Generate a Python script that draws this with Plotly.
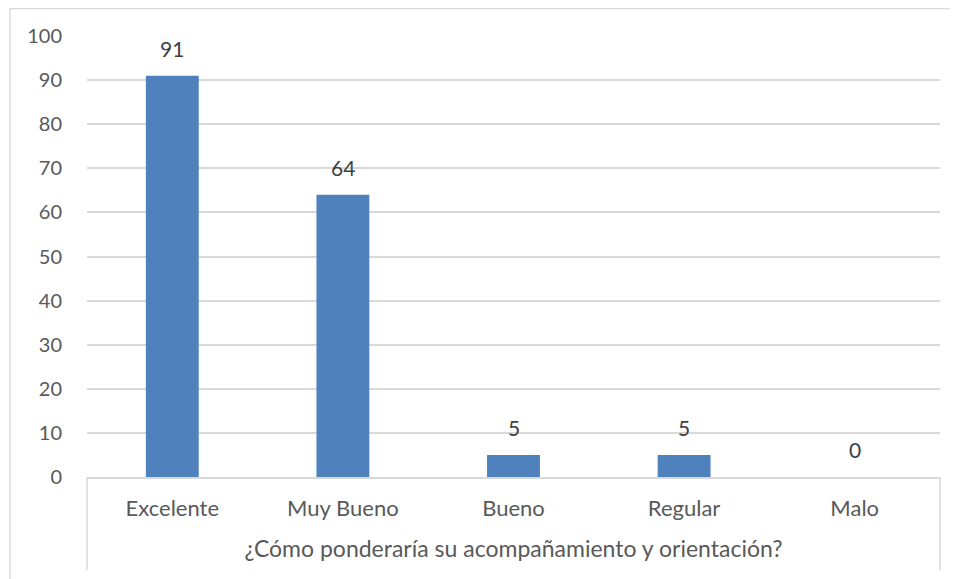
import plotly.graph_objects as go

categories = ["Excelente", "Muy Bueno", "Bueno", "Regular", "Malo"]
values = [91, 64, 5, 5, 0]
y_ticks = [0, 10, 20, 30, 40, 50, 60, 70, 80, 90, 100]
axis_title = "¿Cómo ponderaría su acompañamiento y orientación?"

FONT = "Lato, Open Sans, sans-serif"
TXT = "#595959"
GRID = "#D9D9D9"

fig = go.Figure(go.Bar(
    x=categories, y=values,
    marker=dict(color="#4F81BD", line=dict(width=0)),
    width=0.31, hoverinfo="x+y",
))

annotations = [
    dict(x=c, y=v, xref="x", yref="y", text=str(v), showarrow=False,
         yanchor="bottom", xanchor="center", yshift=13,
         font=dict(family=FONT, size=21, color="#404040"))
    for c, v in zip(categories, values)
]

line = dict(color=GRID, width=1.5)
fig.update_layout(
    width=950, height=571,
    margin=dict(l=79, r=18, t=28, b=102),
    paper_bgcolor="white", plot_bgcolor="white",
    showlegend=False,
    font=dict(family=FONT, size=22, color=TXT),
    annotations=annotations,
    shapes=[
        dict(type="line", xref="paper", yref="paper", x0=0, x1=0, y0=0, y1=-0.211, line=line),
        dict(type="line", xref="paper", yref="paper", x0=1, x1=1, y0=0, y1=-0.211, line=line),
        dict(type="line", xref="paper", yref="paper", x0=-0.0903, x1=1.03, y0=1.0624, y1=1.0624, line=line),
        dict(type="line", xref="paper", yref="paper", x0=-0.0903, x1=-0.0903, y0=1.0624, y1=-0.3, line=line),
    ],
)
fig.update_xaxes(
    showgrid=False, showline=True, linecolor=GRID, linewidth=1.5,
    ticks="", ticklabelstandoff=11,
    tickfont=dict(family=FONT, size=22, color=TXT),
    title=dict(text=axis_title, font=dict(family=FONT, size=23, color=TXT), standoff=21),
)
fig.update_yaxes(
    range=[0, 100], tickvals=y_ticks, showgrid=True, gridcolor=GRID, gridwidth=1.5,
    zeroline=False, ticks="", ticklabelstandoff=24,
    tickfont=dict(family=FONT, size=20, color=TXT),
)

fig.write_html("out.html")
